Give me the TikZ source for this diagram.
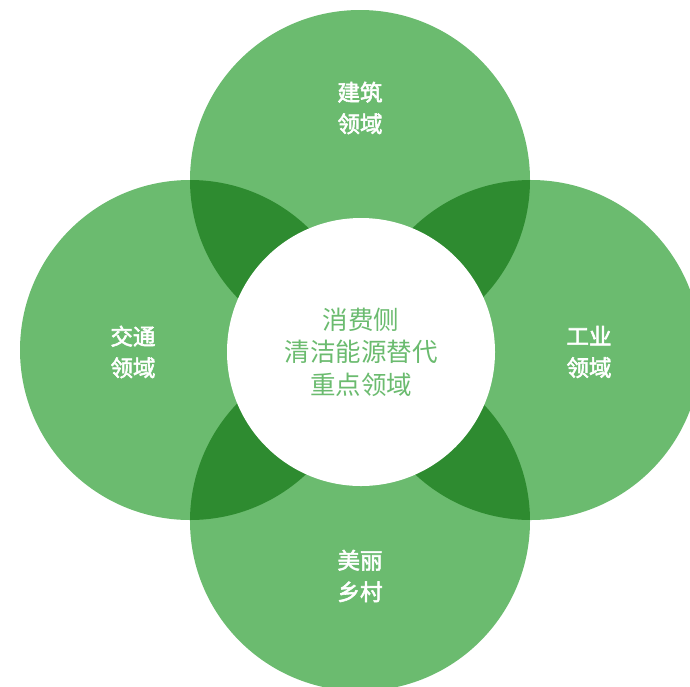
\documentclass[tikz,border=0pt]{standalone}
\usepackage{fontspec}
\newfontfamily\cjk{Noto Sans CJK SC}
\newfontfamily\cjkm[FakeBold=2.5]{Noto Sans CJK SC}
\definecolor{lgreen}{HTML}{6BBB6F}
\definecolor{dgreen}{HTML}{2E8B30}

\begin{document}
\begin{tikzpicture}[x=1pt,y=-1pt,
  lab/.style={text=white,align=center,font=\cjkm\fontsize{22.5}{31.5}\selectfont},
  core/.style={circle,fill=white,minimum size=268pt,inner sep=0pt,align=center,text=lgreen,font=\cjk\fontsize{25.5}{32.5}\selectfont}]
 \useasboundingbox (0,0) rectangle (690,686);
 \coordinate (t) at (360,180); %上
 \coordinate (l) at (190,350); %左
 \coordinate (r) at (531,350); %右
 \coordinate (b) at (360,521); %下
 \foreach \c in {t,l,r,b} \fill[lgreen] (\c) circle[radius=170pt];
 \foreach \a/\b in {t/l,t/r,b/l,b/r}{ %重なり
  \begin{scope}
   \clip (\a) circle[radius=170pt];
   \fill[dgreen] (\b) circle[radius=170pt];
  \end{scope}}
 \node[core] (center) at (361,352) {消费侧\\清洁能源替代\\重点领域};
 \node[lab] (jianzhu) at (360,108) {建筑\\领域};
 \node[lab] (jiaotong) at (133,352) {交通\\领域};
 \node[lab] (gongye) at (589,352) {工业\\领域};
 \node[lab] (xiangcun) at (360,576) {美丽\\乡村};
\end{tikzpicture}
\end{document}
